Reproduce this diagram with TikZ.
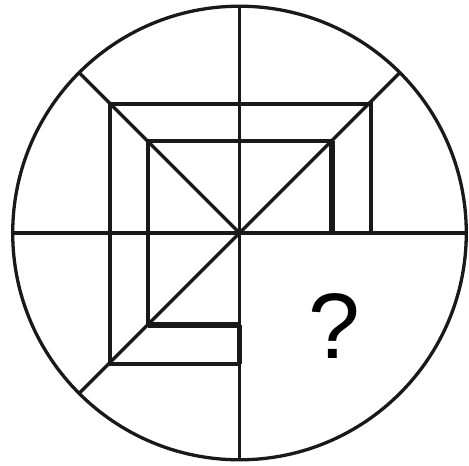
\documentclass[tikz,border=0pt]{standalone}
\usepackage{fontspec}
\newfontfamily\qfont{Liberation Sans}
\begin{document}
\begin{tikzpicture}[x=1pt,y=-1pt,
  thinline/.style={line width=3.3pt,draw=black!90},
  axisline/.style={line width=3.8pt,draw=black!90},
  sqline/.style={line width=4.6pt,draw=black!90,line join=miter},
  heavyline/.style={line width=6pt,draw=black!90}]
\useasboundingbox (0,0) rectangle (469,466);
\coordinate (c) at (239.5,233);
% circle
\draw[thinline] (c) circle (226.8);
% axes
\coordinate (top) at (239.5,6);
\coordinate (bot) at (239.5,460);
\coordinate (lft) at (13,233);
\coordinate (rgt) at (466,233);
\draw[axisline] (top) -- (bot);
\draw[axisline] (lft) -- (rgt);
% diagonals
\coordinate (dtl) at (79,72.5);
\coordinate (dtr) at (400,72.5);
\coordinate (dbl) at (79,393.5);
\draw[thinline] (dtl) -- (c);
\draw[thinline] (dtr) -- (c);
\draw[thinline] (dbl) -- (c);
% outer square (partial)
\coordinate (otl) at (110,104);
\coordinate (otr) at (371,104);
\coordinate (obl) at (110,364);
\coordinate (ob) at (239.5,364);
\coordinate (or) at (371,233);
\draw[sqline] (ob) -- (obl) -- (otl) -- (otr) -- (or) -- (332,233);
% inner square (partial)
\coordinate (itl) at (148,141);
\coordinate (itr) at (332,141);
\coordinate (ibl) at (148,325);
\coordinate (ib) at (239.5,325);
\coordinate (ir) at (332,233);
\draw[sqline] (ib) -- (ibl) -- (itl) -- (itr) -- (ir);
% heavier pieces
\draw[heavyline] (itr) -- (ir);
\draw[heavyline] (ibl) -- (ib);
\draw[sqline] (ib) -- (ob);
% question mark
\node[anchor=base,inner sep=0pt,font=\qfont\fontsize{93}{93}\selectfont] (q) at (334,358) {?};
\end{tikzpicture}
\end{document}
